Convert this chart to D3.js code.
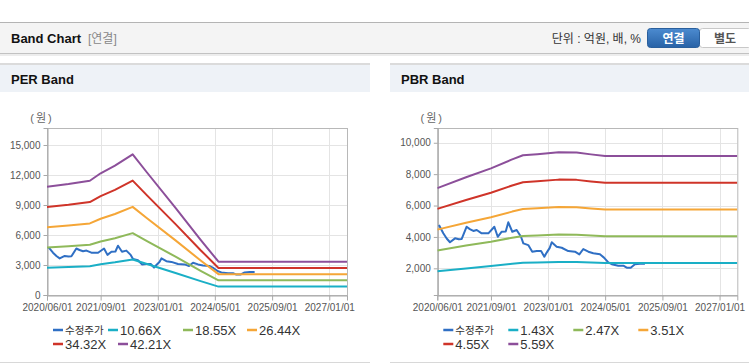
<!DOCTYPE html>
<html>
<head>
<meta charset="utf-8">
<script src="https://cdn.jsdelivr.net/npm/d3@7"></script>
<style>
body { margin: 0; background: #fff; }
svg { display: block; font-family: "Liberation Sans", Arial, "Noto Sans CJK KR", sans-serif; }
</style>
</head>
<body>
<svg width="749" height="364"></svg>
<script>
// ---- data ----
var priceName = '수정주가';
var priceDates = ['2020-06-15','2020-07-22','2020-08-20','2020-09-17','2020-10-30','2020-12-01','2020-12-26',
  '2021-02-06','2021-03-05','2021-04-04','2021-05-03','2021-06-14','2021-08-10','2021-09-30','2021-10-29',
  '2021-12-02','2022-01-05','2022-01-27','2022-03-02','2022-04-08','2022-05-15','2022-06-04','2022-07-16',
  '2022-08-19','2022-09-26','2022-11-02','2022-11-30','2022-12-20','2023-01-15','2023-02-01','2023-03-15',
  '2023-04-27','2023-06-22','2023-08-18','2023-09-24','2023-10-28','2023-12-10','2024-01-21','2024-03-18',
  '2024-04-21','2024-05-28','2024-06-26','2024-08-21','2024-10-03','2024-11-01','2024-12-05','2025-01-10',
  '2025-02-22','2025-04-05'];
var priceValues = [4760,4230,3900,3660,3910,3850,3870,
  4650,4500,4380,4440,4230,4230,4650,4010,
  4330,4350,4930,4330,4440,4010,3590,3480,
  3060,3100,3100,2740,3000,3300,3660,3380,
  3310,3100,3060,2890,3230,3060,2960,2890,
  2680,2380,2260,2170,2170,2040,2040,2260,
  2290,2290];

var perBandNames = ['10.66X','18.55X','26.44X','34.32X','42.21X'];
var perBandDates = ['2020-06-01','2020-12-01','2021-06-01','2021-09-01','2022-01-01','2022-06-01',
  '2022-10-01','2023-06-01','2024-01-01','2024-06-01','2027-06-01'];
var per1066 = [2735,2803,2886,3073,3265,3553,3093,2202,1391,841,841];
var per1855 = [4760,4878,5023,5349,5683,6184,5384,3832,2422,1464,1464];
var per2644 = [6784,6953,7160,7623,8099,8813,7673,5462,3451,2086,2086];
var per3432 = [8806,9025,9294,9895,10513,11440,9960,7090,4480,2708,2708];
var per4221 = [10830,11100,11430,12170,12930,14070,12250,8720,5510,3330,3330];
var perYTicks = [0,3000,6000,9000,12000,15000];

var pbrBandNames = ['1.43X','2.47X','3.51X','4.55X','5.59X'];
var pbrBandDates = ['2020-06-01','2021-02-01','2021-09-01','2022-03-01','2022-06-01','2022-10-01',
  '2023-04-01','2023-09-01','2024-01-01','2024-05-01','2027-06-01'];
var pbr143 = [1819,1995,2141,2287,2353,2371,2405,2400,2369,2341,2341];
var pbr247 = [3142,3447,3698,3950,4065,4096,4153,4145,4092,4043,4043];
var pbr351 = [4464,4898,5256,5614,5777,5821,5902,5890,5815,5745,5745];
var pbr455 = [5787,6349,6813,7277,7488,7545,7651,7635,7537,7448,7448];
var pbr559 = [7110,7800,8370,8940,9200,9270,9400,9380,9260,9150,9150];
var pbrYTicks = [2000,4000,6000,8000,10000];

var xTickDates = ['2020-06-01','2021-09-01','2023-01-01','2024-05-01','2025-09-01','2027-01-01'];

var colors = ['#2f6fc4','#1aafc6','#8fb95a','#f5a637','#cf3429','#8c4f9a'];

var parseDate = d3.timeParse('%Y-%m-%d');
var svg = d3.select('svg');
var defs = svg.append('defs');

// ---- top header ----
svg.append('line').attr('x1',0).attr('x2',749).attr('y1',22.5).attr('y2',22.5)
    .attr('stroke','#b4b4b4');
svg.append('rect').attr('x',0).attr('y',23).attr('width',749).attr('height',30).attr('fill','#f4f4f4');
svg.append('line').attr('x1',0).attr('x2',749).attr('y1',53.5).attr('y2',53.5)
    .attr('stroke','#c2c2c2');
svg.append('rect').attr('x',0).attr('y',54).attr('width',749).attr('height',2)
    .attr('fill','#e6e6e6').attr('opacity',0.7);

svg.append('text').attr('x',11).attr('y',43).text('Band Chart')
    .attr('font-size',13).attr('font-weight','bold').attr('fill','#111');
svg.append('text').attr('x',88).attr('y',43).text('[연결]')
    .attr('font-size',12).attr('fill','#888');
svg.append('text').attr('x',641).attr('y',42.5).attr('text-anchor','end').text('단위 : 억원, 배, %')
    .attr('font-size',12).attr('fill','#333');

var grad = defs.append('linearGradient').attr('id','btnBlue').attr('x1',0).attr('x2',0).attr('y1',0).attr('y2',1);
grad.append('stop').attr('offset','0%').attr('stop-color','#4c8bd0');
grad.append('stop').attr('offset','100%').attr('stop-color','#2862a6');

svg.append('rect').attr('x',699.5).attr('y',28.5).attr('width',52).attr('height',19).attr('rx',3)
    .attr('fill','#fff').attr('stroke','#c8c8c8');
svg.append('rect').attr('x',647.5).attr('y',28.5).attr('width',52).attr('height',19).attr('rx',3)
    .attr('fill','url(#btnBlue)').attr('stroke','#2a5f9c');
svg.append('text').attr('x',673.5).attr('y',42.5).attr('text-anchor','middle').text('연결')
    .attr('font-size',12).attr('font-weight','bold').attr('fill','#fff');
svg.append('text').attr('x',725).attr('y',42.5).attr('text-anchor','middle').text('별도')
    .attr('font-size',12).attr('font-weight','bold').attr('fill','#555');

// ---- panels ----
function drawPanel(x0, x1, title) {
    svg.append('line').attr('x1',x0).attr('x2',x1).attr('y1',64).attr('y2',64)
        .attr('stroke','#cfcfcf').attr('stroke-width',1.5);
    svg.append('rect').attr('x',x0).attr('y',65).attr('width',x1 - x0).attr('height',27).attr('fill','#eef2f7');
    svg.append('text').attr('x',x0 + 11).attr('y',84).text(title)
        .attr('font-size',13).attr('font-weight','bold').attr('fill','#111');
    svg.append('line').attr('x1',x0).attr('x2',x1).attr('y1',362.5).attr('y2',362.5)
        .attr('stroke','#d8d8d8');
}
drawPanel(0, 370, 'PER Band');
drawPanel(390, 749, 'PBR Band');

// ---- band chart ----
var lineFunction = d3.line()
    .x(function(d){ return d.x; })
    .y(function(d){ return d.y; });

function drawBand(opt) {
    var top = 128, bottom = 295;
    var left = opt.left, right = opt.left + 300;
    var x = d3.scaleTime()
        .domain([parseDate('2020-06-01'), parseDate('2027-06-01')])
        .range([left, right]);
    var y = d3.scaleLinear().domain(opt.yDomain).range([bottom, top]);
    var g = svg.append('g');
    var xTicks = xTickDates.map(parseDate);

    // grid
    g.selectAll('.hgrid').data(opt.yTicks).enter().append('line')
        .attr('x1', left).attr('x2', right)
        .attr('y1', function(d){ return Math.round(y(d)) + 0.5; })
        .attr('y2', function(d){ return Math.round(y(d)) + 0.5; })
        .attr('stroke', '#e4e4e4');
    g.selectAll('.vgrid').data(xTicks).enter().append('line')
        .attr('y1', top).attr('y2', bottom)
        .attr('x1', function(d){ return Math.round(x(d)) + 0.5; })
        .attr('x2', function(d){ return Math.round(x(d)) + 0.5; })
        .attr('stroke', '#e4e4e4');
    g.append('rect').attr('x', left + 0.5).attr('y', top + 0.5)
        .attr('width', 300).attr('height', bottom - top)
        .attr('fill', 'none').attr('stroke', '#b8b8b8');

    // axes
    var xAxis = g.append('g').attr('transform', 'translate(0,' + (bottom + 0.5) + ')')
        .call(d3.axisBottom(x).tickValues(xTicks).tickFormat(d3.timeFormat('%Y/%m/%d'))
            .tickSize(5).tickPadding(3));
    var yAxis = g.append('g').attr('transform', 'translate(' + (left + 0.5) + ',0)')
        .call(d3.axisLeft(y).tickValues(opt.yTicks).tickFormat(d3.format(','))
            .tickSize(4).tickPadding(3));
    [xAxis, yAxis].forEach(function(a){
        a.select('.domain').attr('stroke', '#a8a8a8');
        a.selectAll('.tick line').attr('stroke', '#a8a8a8');
        a.selectAll('.tick text').attr('fill', '#555').attr('font-size', 10)
            .attr('font-family', '"Liberation Sans", Arial, sans-serif');
    });

    g.append('text').attr('x', left - 5).attr('y', 122).attr('text-anchor', 'middle')
        .text('(원)').attr('font-size', 11).attr('letter-spacing', 2).attr('fill', '#666');

    // series
    var clipId = 'clip' + Math.round(opt.left);
    defs.append('clipPath').attr('id', clipId).append('rect')
        .attr('x', left).attr('y', top).attr('width', 300).attr('height', bottom - top);
    var plot = g.append('g').attr('clip-path', 'url(#' + clipId + ')');

    var series = [{ name: priceName, dates: priceDates, values: priceValues }];
    opt.bandNames.forEach(function(n, i){
        series.push({ name: n, dates: opt.bandDates, values: opt.bands[i] });
    });

    series.forEach(function(s, i){
        var pts = s.values.map(function(v, j){
            return { x: x(parseDate(s.dates[j])), y: y(v) };
        });
        plot.append('path')
            .datum(pts)
            .attr('d', lineFunction)
            .attr('fill', 'none')
            .attr('stroke', colors[i])
            .attr('stroke-width', 2)
            .attr('stroke-linejoin', 'round');
    });

    // legend
    var legend = g.append('g');
    series.forEach(function(s, i){
        var row = i < 4 ? 0 : 1;
        var lx = left + opt.legendX[i];
        var ly = row === 0 ? 330 : 344;
        legend.append('line').attr('x1', lx).attr('x2', lx + 10).attr('y1', ly).attr('y2', ly)
            .attr('stroke', colors[i]).attr('stroke-width', 2.5);
        legend.append('text').attr('x', lx + 12).attr('y', ly).attr('dy', '0.36em')
            .text(s.name).attr('font-size', i === 0 ? 10.5 : 13).attr('fill', '#333')
            .attr('font-family', '"Liberation Sans", Arial, "Noto Sans CJK KR", sans-serif');
    });
}

drawBand({
    left: 47,
    yDomain: [0, 16700],
    yTicks: perYTicks,
    bandNames: perBandNames,
    bandDates: perBandDates,
    bands: [per1066, per1855, per2644, per3432, per4221],
    legendX: [6, 61, 136, 200, 6, 71]
});

drawBand({
    left: 437.3,
    yDomain: [300, 10940],
    yTicks: pbrYTicks,
    bandNames: pbrBandNames,
    bandDates: pbrBandDates,
    bands: [pbr143, pbr247, pbr351, pbr455, pbr559],
    legendX: [6, 71, 136, 201, 6, 71]
});
</script>
</body>
</html>
